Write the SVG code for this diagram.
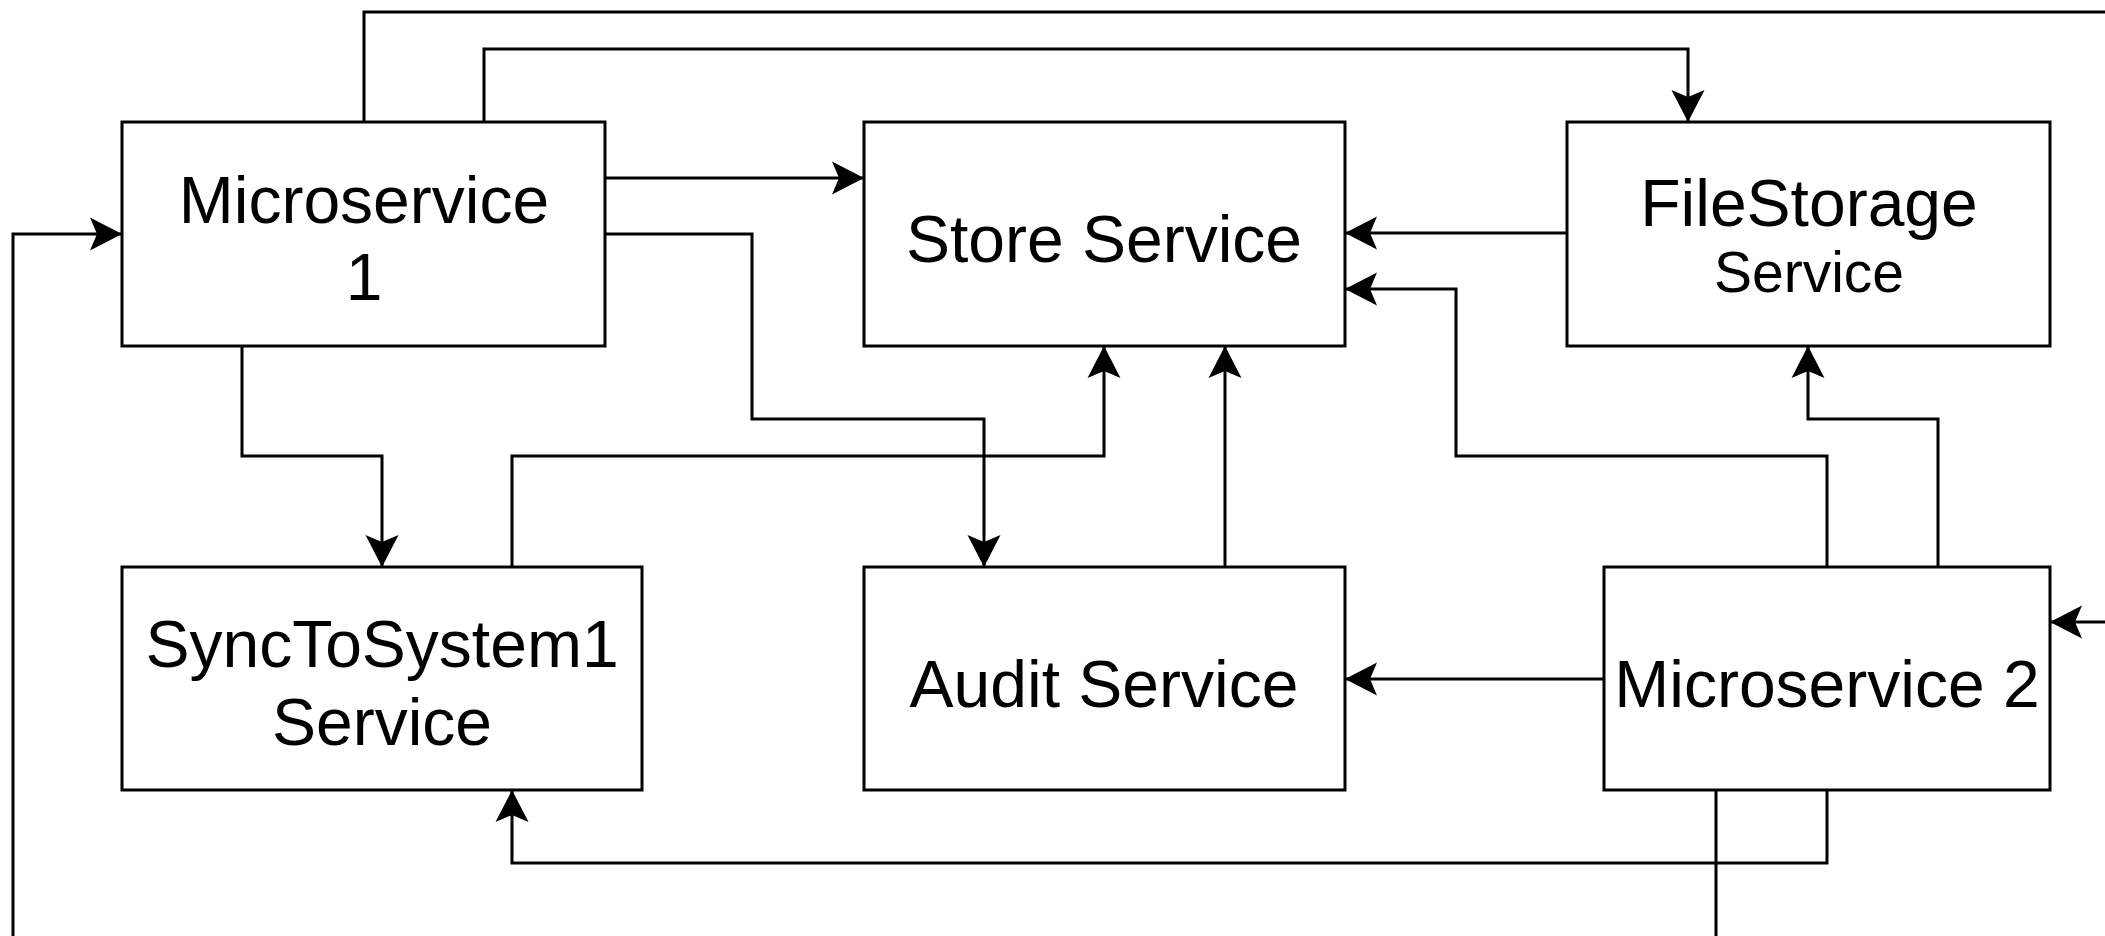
<svg xmlns="http://www.w3.org/2000/svg" width="2105" height="936" viewBox="0 0 2105 936">
  <style>
    .box { fill: #ffffff; stroke: #000000; stroke-width: 3; }
    .lbl { font-family: "Liberation Sans", Arial, Helvetica, sans-serif; font-size: 66px; fill: #000000; text-anchor: middle; }
    .sm { font-size: 57px; }
    .edge { fill: none; stroke: #000000; stroke-width: 3; marker-end: url(#arr); }
    .plain { fill: none; stroke: #000000; stroke-width: 3; }
  </style>
  <defs>
    <marker id="arr" markerUnits="userSpaceOnUse" markerWidth="40" markerHeight="40" viewBox="0 -20 40 40" refX="33" refY="0" orient="auto">
      <path d="M1,-16.5 L33,0 L1,16.5 L8,0 Z" fill="#000000"/>
    </marker>
  </defs>
  <rect x="0" y="0" width="2105" height="936" fill="#ffffff"/>

  <g id="connectors">
    <path class="edge" d="M364,122 V12 H2130 V622 H2050"/>
    <path class="edge" d="M484,122 V49 H1688 V122"/>
    <path class="edge" d="M605,178 H864"/>
    <path class="edge" d="M605,234 H752 V419 H984 V567"/>
    <path class="edge" d="M242,346 V456 H382 V567"/>
    <path class="edge" d="M512,567 V456 H1104 V346"/>
    <path class="edge" d="M1225,567 V346"/>
    <path class="edge" d="M1567,233 H1345"/>
    <path class="edge" d="M1827,567 V456 H1456 V289 H1345"/>
    <path class="edge" d="M1938,567 V419 H1808 V346"/>
    <path class="edge" d="M1604,679 H1345"/>
    <path class="edge" d="M1827,790 V863 H512 V790"/>
    <path class="edge" d="M1716,790 V960 H13 V234 H122"/>
  </g>

  <g id="microservice1">
    <rect class="box" x="122" y="122" width="483" height="224"/>
    <text class="lbl" x="364" y="223">Microservice</text>
    <text class="lbl" x="364" y="300">1</text>
  </g>
  <g id="store-service">
    <rect class="box" x="864" y="122" width="481" height="224"/>
    <text class="lbl" x="1104" y="262">Store Service</text>
  </g>
  <g id="filestorage-service">
    <rect class="box" x="1567" y="122" width="483" height="224"/>
    <text class="lbl" x="1809" y="226">FileStorage</text>
    <text class="lbl sm" x="1809" y="292">Service</text>
  </g>
  <g id="synctosystem1-service">
    <rect class="box" x="122" y="567" width="520" height="223"/>
    <text class="lbl" x="382" y="667">SyncToSystem1</text>
    <text class="lbl" x="382" y="745">Service</text>
  </g>
  <g id="audit-service">
    <rect class="box" x="864" y="567" width="481" height="223"/>
    <text class="lbl" x="1104" y="707">Audit Service</text>
  </g>
  <g id="microservice2">
    <rect class="box" x="1604" y="567" width="446" height="223"/>
    <text class="lbl" x="1827" y="707">Microservice 2</text>
  </g>
</svg>
